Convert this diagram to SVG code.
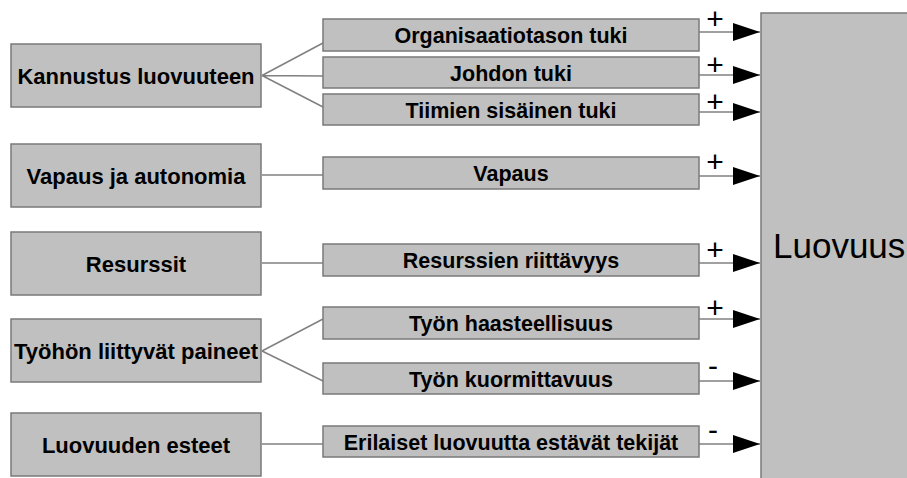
<svg xmlns="http://www.w3.org/2000/svg" width="907" height="478" viewBox="0 0 907 478">
<defs>
<style>
.box{fill:#c0c0c0;stroke:#7a7a7a;stroke-width:1.5}
.lt{font-family:"Liberation Sans",Arial,sans-serif;font-weight:bold;font-size:22px;fill:#000;text-anchor:middle}
.mt{font-family:"Liberation Sans",Arial,sans-serif;font-weight:bold;font-size:21.5px;fill:#000;text-anchor:middle}
.sg{font-family:"Liberation Sans",Arial,sans-serif;font-size:30px;fill:#000;text-anchor:middle}
.c{stroke:#808080;stroke-width:1.5;fill:none}
.a{stroke:#808080;stroke-width:1.5;fill:none;marker-end:url(#ah)}
</style>
<marker id="ah" markerUnits="userSpaceOnUse" markerWidth="28" markerHeight="20" refX="27" refY="9" orient="auto">
<path d="M0,0 L27,9 L0,18 Z" fill="#000"/>
</marker>
</defs>
<rect id="bg" x="0" y="0" width="907" height="478" fill="#fff"/>
<g id="connectors">
<path class="c" d="M262,75.5 L323,43 M262,75.5 L323,76 M262,75.5 L323,107"/>
<path class="c" d="M262,175 L323,175"/>
<path class="c" d="M262,263 L323,263"/>
<path class="c" d="M262,351 L323,319 M262,351 L323,381"/>
<path class="c" d="M262,444 L323,444"/>
<path class="a" d="M699,32 L760,32"/>
<path class="a" d="M699,75 L760,75"/>
<path class="a" d="M699,112 L760,112"/>
<path class="a" d="M699,176 L760,176"/>
<path class="a" d="M699,263 L760,263"/>
<path class="a" d="M699,319 L760,319"/>
<path class="a" d="M699,381 L760,381"/>
<path class="a" d="M699,444 L760,444"/>
<text class="sg" x="715" y="28.5">+</text>
<text class="sg" x="715" y="74.5">+</text>
<text class="sg" x="715" y="111.5">+</text>
<text class="sg" x="715" y="171.5">+</text>
<text class="sg" x="715" y="260">+</text>
<text class="sg" x="715" y="318">+</text>
<text class="sg" x="713" y="376">-</text>
<text class="sg" x="713" y="440">-</text>
</g>
<g id="luovuus">
<rect class="box" x="761" y="13" width="160" height="480"/>
<text x="773" y="258" font-family="'Liberation Sans',Arial,sans-serif" font-size="35" fill="#000">Luovuus</text>
</g>
<g id="kannustus"><rect class="box" x="11" y="44" width="250" height="63"/><text class="lt" x="136" y="83.5">Kannustus luovuuteen</text></g>
<g id="vapausjaautonomia"><rect class="box" x="11" y="144" width="250" height="63"/><text class="lt" x="136" y="183.5">Vapaus ja autonomia</text></g>
<g id="resurssit"><rect class="box" x="11" y="232" width="250" height="63"/><text class="lt" x="136" y="271.5">Resurssit</text></g>
<g id="tyohon"><rect class="box" x="11" y="319" width="250" height="63"/><text class="lt" x="136" y="358.5">Työhön liittyvät paineet</text></g>
<g id="esteet"><rect class="box" x="11" y="413" width="250" height="63"/><text class="lt" x="136" y="452.5">Luovuuden esteet</text></g>
<g id="organisaatio"><rect class="box" x="323" y="19" width="376" height="32"/><text class="mt" x="511" y="43">Organisaatiotason tuki</text></g>
<g id="johdon"><rect class="box" x="323" y="57" width="376" height="31"/><text class="mt" x="511" y="80.5">Johdon tuki</text></g>
<g id="tiimien"><rect class="box" x="323" y="94" width="376" height="31"/><text class="mt" x="511" y="117.5">Tiimien sisäinen tuki</text></g>
<g id="vapaus"><rect class="box" x="323" y="157" width="376" height="32"/><text class="mt" x="511" y="181">Vapaus</text></g>
<g id="riittavyys"><rect class="box" x="323" y="244" width="376" height="32"/><text class="mt" x="511" y="268">Resurssien riittävyys</text></g>
<g id="haasteellisuus"><rect class="box" x="323" y="307" width="376" height="32"/><text class="mt" x="511" y="331">Työn haasteellisuus</text></g>
<g id="kuormittavuus"><rect class="box" x="323" y="363" width="376" height="31"/><text class="mt" x="511" y="386.5">Työn kuormittavuus</text></g>
<g id="erilaiset"><rect class="box" x="323" y="426" width="376" height="31"/><text class="mt" x="511" y="449.5">Erilaiset luovuutta estävät tekijät</text></g>
</svg>
